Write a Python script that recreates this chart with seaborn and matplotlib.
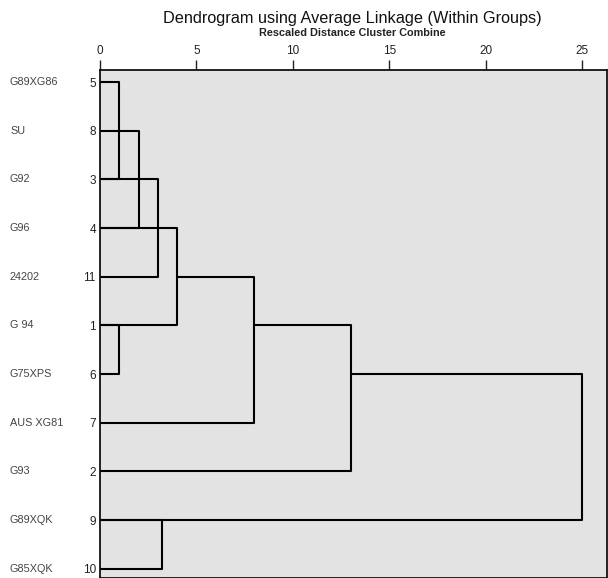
import pandas as pd
import matplotlib
matplotlib.use("Agg")
import matplotlib.pyplot as plt
import matplotlib.transforms as mtransforms
import seaborn as sns

# 样本名称和编号 (从上到下)
sample_names = ["G89XG86", "SU", "G92", "G96", "24202", "G 94",
                "G75XPS", "AUS XG81", "G93", "G89XQK", "G85XQK"]
case_ids = [5, 8, 3, 4, 11, 1, 6, 7, 2, 9, 10]

# 合并步骤: 上行, 下行, 距离, 上行起点, 下行起点
merge_top = [0, 1, 2, 3, 5, 4, 5, 6, 9]
merge_bottom = [2, 3, 4, 5, 6, 7, 8, 9, 10]
merge_level = [1, 2, 3, 4, 1, 8, 13, 25, 3.2]
top_start = [0, 0, 0, 0, 0, 4, 8, 13, 0]
bottom_start = [0, 0, 0, 0, 0, 0, 0, 0, 0]

x_ticks = [0, 5, 10, 15, 20, 25]

# 每个合并画成一个折线 (上横线 -> 竖线 -> 下横线)
rows = []
for i in range(len(merge_level)):
    pts = [(top_start[i], merge_top[i]),
           (merge_level[i], merge_top[i]),
           (merge_level[i], merge_bottom[i]),
           (bottom_start[i], merge_bottom[i])]
    for k, (x, y) in enumerate(pts):
        rows.append({"seg": i, "order": k, "x": x, "y": y})
df = pd.DataFrame(rows)

sns.set_theme(style="white")
plt.rcParams['font.family'] = ['Liberation Sans', 'DejaVu Sans']

fig = plt.figure(figsize=(6.08, 5.78), dpi=100)
ax = fig.add_axes([100 / 608, 0, 507 / 608, 508 / 578])
ax.set_facecolor("#e3e3e3")

sns.lineplot(data=df, x="x", y="y", units="seg", estimator=None, sort=False,
             color="black", linewidth=1.5, ax=ax, legend=False)

ax.set_xlim(0, 26.27)
ax.set_ylim(10.19, -0.25)
ax.set_xticks(x_ticks)
ax.set_xticklabels([str(t) for t in x_ticks], fontsize=8.5, color="#222222")
ax.xaxis.set_ticks_position("top")
ax.xaxis.set_label_position("top")
ax.tick_params(axis="x", top=True, bottom=False, labeltop=True, labelbottom=False,
               direction="out", length=7, width=1, color="#222222", pad=2)
ax.set_yticks(range(len(case_ids)))
ax.set_yticklabels([str(c) for c in case_ids], fontsize=8.5, color="#222222")
ax.tick_params(axis="y", left=False, length=0, pad=3)
ax.set_xlabel("")
ax.set_ylabel("")
for s in ax.spines.values():
    s.set_color("#111111")
    s.set_linewidth(1.3)

# 左侧样本名称
trans = mtransforms.blended_transform_factory(fig.transFigure, ax.transData)
for i, name in enumerate(sample_names):
    ax.text(10 / 608, i, name, transform=trans, ha="left", va="center",
            fontsize=7.8, color="#444444")

fig.text(352 / 608, 1 - 18 / 578, "Dendrogram using Average Linkage (Within Groups)",
         ha="center", va="center", fontsize=11.7, color="#111111")
fig.text(352 / 608, 1 - 33 / 578, "Rescaled Distance Cluster Combine",
         ha="center", va="center", fontsize=7.8, fontweight="bold", color="#222222")

fig.savefig("out.png", dpi=100)
